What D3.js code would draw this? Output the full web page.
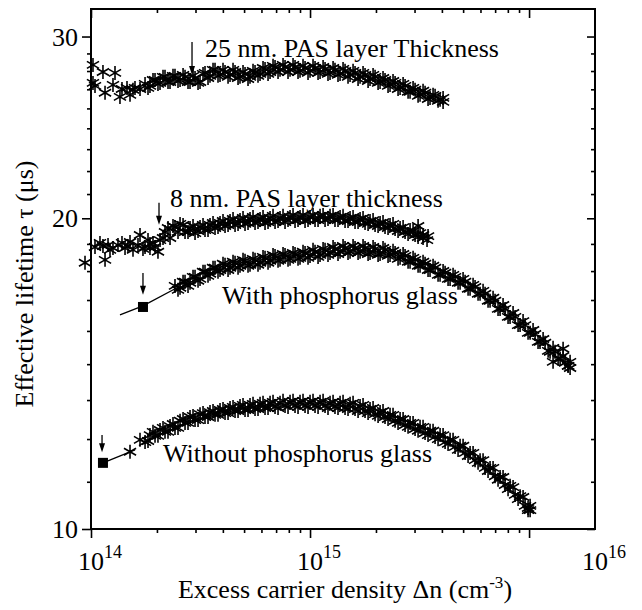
<!DOCTYPE html>
<html>
<head>
<meta charset="utf-8">
<script src="https://cdn.jsdelivr.net/npm/d3@7"></script>
<style>
  body { margin: 0; background: #fff; }
  svg { display: block; font-family: "Liberation Serif", "Times New Roman", serif; }
</style>
</head>
<body>
<svg id="chart" width="642" height="610"></svg>
<script>
// excess carrier density in units of 1e14 cm^-3, lifetime in microseconds
const pas25 = [
  [1.021,28.16],[1.021,27.05],[1.043,26.87],[1.134,27.72],[1.159,26.46],[1.260,26.93],[1.287,27.66],
  [1.356,26.22],[1.385,26.69],[1.460,26.75],[1.507,26.34],[1.555,26.64],[1.588,26.75],[1.674,26.69],
  [1.765,26.99],[1.859,26.87],[1.960,27.23],[2.066,27.05],[2.177,27.42],[2.295,27.11],[2.418,27.48],
  [2.550,27.23],[2.687,27.42],[2.832,27.11],[2.985,27.35],[3.146,27.11],[3.315,27.66],[3.494,27.48],
  [3.683,27.85],[3.882,27.54],[4.092,27.72],[4.313,27.54],[4.546,27.72],[4.790,27.42],[5.049,27.60],
  [5.321,27.42],[5.609,27.72],[5.912,27.60],[6.231,27.91],[6.568,27.72],[6.922,28.03],[7.295,27.85],
  [7.689,28.03],[8.104,27.85],[8.541,28.03],[9.001,27.79],[9.489,27.97],[10.0,27.79],[10.54,27.97],
  [11.11,27.72],[11.71,27.91],[12.34,27.66],[13.00,27.85],[13.71,27.60],[14.45,27.79],[15.23,27.54],
  [16.05,27.66],[16.92,27.42],[17.83,27.54],[18.79,27.29],[19.81,27.42],[20.88,27.11],[22.00,27.23],
  [23.19,26.93],[24.45,27.05],[25.77,26.75],[27.16,26.87],[28.62,26.52],[30.17,26.64],[31.79,26.34],
  [33.51,26.46],[35.31,26.16],[37.23,26.28],[39.24,26.05],[40.50,26.16],[40.50,25.93],
  [1.821,26.75],[1.919,27.23],[2.022,26.99],[2.132,27.42],[2.247,27.11],[2.368,27.48],[2.496,27.17],
  [2.632,27.54],[2.773,27.11],[2.923,27.48],[3.081,27.05],[3.247,27.60],[3.422,27.35],[3.607,27.85],
  [3.801,27.48],[4.006,27.85],[4.224,27.42],[4.451,27.85],[4.692,27.35],[4.944,27.72],[5.211,27.29],
  [5.492,27.79],[5.788,27.48],[6.101,27.97],[6.431,27.60],[6.778,28.10],[7.144,27.72],[7.529,28.16],
  [7.935,27.72],[8.364,28.16],[8.815,27.72],[9.290,28.10],[9.792,27.66],[10.32,28.10],[10.88,27.66],
  [11.47,28.03],[12.08,27.60],[12.74,27.97],[13.42,27.54],[14.15,27.91],[14.91,27.42],[15.72,27.79],
  [16.57,27.29],[17.46,27.66],[18.41,27.17],[19.40,27.54],[20.45,27.05],[21.54,27.35],[22.71,26.87],
  [23.93,27.17],[25.23,26.69],[26.60,26.99],[28.03,26.52],[29.54,26.75],[31.14,26.28],[32.81,26.58],
  [34.58,26.10],[36.45,26.34],[38.42,25.99]
];

const pas8 = [
  [0.939,18.11],[1.043,18.76],[1.099,18.93],[1.159,18.23],[1.196,18.84],[1.260,18.72],[1.328,18.84],
  [1.385,18.93],[1.430,18.72],[1.507,18.97],[1.555,18.64],[1.639,18.84],[1.674,19.27],[1.765,18.76],
  [1.821,19.05],[1.859,18.72],[1.919,18.93],[1.960,18.76],[2.022,18.56],[2.066,19.05],[2.177,19.40],
  [2.247,19.57],[2.295,19.14],[2.418,19.61],[2.550,19.75],[2.687,19.40],[2.832,19.57],[2.985,19.35],
  [3.146,19.61],[3.315,19.48],[3.494,19.70],[3.683,19.57],[3.882,19.79],[4.092,19.66],[4.313,19.88],
  [4.546,19.70],[4.790,19.92],[5.049,19.75],[5.321,19.97],[5.609,19.79],[5.912,19.97],[6.231,19.79],
  [6.568,20.01],[6.922,19.83],[7.295,20.01],[7.689,19.83],[8.104,20.06],[8.541,19.88],[9.001,20.06],
  [9.489,19.88],[10.0,20.06],[10.54,19.92],[11.11,20.11],[11.71,19.92],[12.34,20.11],[13.00,19.92],
  [13.71,20.06],[14.45,19.88],[15.23,20.01],[16.05,19.83],[16.92,19.97],[17.83,19.79],[18.79,19.88],
  [19.81,19.70],[20.88,19.79],[22.00,19.61],[23.19,19.70],[24.45,19.53],[25.77,19.57],[27.16,19.40],
  [28.62,19.48],[30.17,19.27],[31.14,19.66],[31.79,19.35],[32.81,19.14],[34.21,19.05],[34.58,19.22],
  [1.134,18.80],[1.221,18.64],[1.475,18.80],[1.727,18.68],[1.859,18.89],
  [2.132,19.14],[2.368,19.66],[2.496,19.40],[2.632,19.70],[2.773,19.40],[2.923,19.66],[3.081,19.44],
  [3.247,19.70],[3.422,19.48],[3.607,19.79],[3.801,19.61],[4.006,19.88],[4.224,19.70],[4.451,19.97],
  [4.692,19.75],[4.944,20.01],[5.211,19.79],[5.492,20.06],[5.788,19.83],[6.101,20.06],[6.431,19.83],
  [6.778,20.11],[7.144,19.88],[7.529,20.11],[7.935,19.92],[8.364,20.15],[8.815,19.92],[9.290,20.15],
  [9.792,19.92],[10.32,20.15],[10.88,19.92],[11.47,20.15],[12.08,19.97],[12.74,20.15],[13.42,19.92],
  [14.15,20.11],[14.91,19.88],[15.72,20.06],[16.57,19.83],[17.46,20.01],[18.41,19.75],[19.40,19.92],
  [20.45,19.66],[21.54,19.83],[22.71,19.57],[23.93,19.75],[25.23,19.44],[26.60,19.61],[28.03,19.31],
  [29.54,19.44],[31.14,19.18],[32.81,19.27]
];

const withGlass = [
  [2.418,17.20],[2.550,17.13],[2.687,17.36],[2.832,17.32],[2.985,17.55],[3.146,17.47],[3.315,17.75],
  [3.494,17.67],[3.683,17.91],[3.882,17.82],[4.092,18.03],[4.313,17.91],[4.546,18.11],[4.790,17.99],
  [5.049,18.19],[5.321,18.03],[5.609,18.23],[5.912,18.11],[6.231,18.31],[6.568,18.19],[6.922,18.39],
  [7.295,18.23],[7.689,18.43],[8.104,18.27],[8.541,18.47],[9.001,18.31],[9.489,18.51],[10.0,18.39],
  [10.54,18.56],[11.11,18.43],[11.71,18.64],[12.34,18.51],[13.00,18.68],[13.71,18.56],[14.45,18.72],
  [15.23,18.56],[16.05,18.72],[16.92,18.56],[17.83,18.72],[18.79,18.51],[19.81,18.68],[20.88,18.47],
  [22.00,18.64],[23.19,18.43],[24.45,18.51],[25.77,18.31],[27.16,18.39],[28.62,18.15],[30.17,18.23],
  [31.79,17.99],[33.51,18.07],[35.31,17.82],[37.23,17.91],[39.24,17.63],[41.36,17.71],[43.59,17.47],
  [45.94,17.55],[48.42,17.32],[51.04,17.36],[53.78,17.09],[56.68,17.16],[59.74,16.90],[62.97,16.90],
  [66.36,16.64],[69.94,16.64],[73.72,16.34],[77.69,16.34],[81.89,16.05],[86.33,16.05],[90.99,15.76],
  [95.88,15.76],[101.1,15.49],[106.5,15.45],[112.2,15.18],[118.3,15.15],[124.7,14.85],[128.7,14.52],
  [131.4,14.85],[138.6,14.62],[143.0,14.95],[146.0,14.49],[150.7,14.39],[153.9,14.52],[153.9,14.32],
  [2.496,17.05],[2.632,17.36],[2.773,17.20],[2.923,17.55],[3.081,17.40],[3.247,17.75],[3.422,17.59],
  [3.607,17.91],[3.801,17.75],[4.006,18.07],[4.224,17.82],[4.451,18.15],[4.692,17.91],[4.944,18.23],
  [5.211,17.99],[5.492,18.27],[5.788,18.03],[6.101,18.35],[6.431,18.11],[6.778,18.43],[7.144,18.19],
  [7.529,18.47],[7.935,18.23],[8.364,18.51],[8.815,18.27],[9.290,18.56],[9.792,18.31],[10.32,18.64],
  [10.88,18.35],[11.47,18.68],[12.08,18.43],[12.74,18.76],[13.42,18.47],[14.15,18.80],[14.91,18.51],
  [15.72,18.80],[16.57,18.51],[17.46,18.80],[18.41,18.47],[19.40,18.76],[20.45,18.43],[21.54,18.72],
  [22.71,18.39],[23.93,18.60],[25.23,18.27],[26.60,18.47],[28.03,18.15],[29.54,18.31],[31.14,17.99],
  [32.81,18.15],[34.58,17.82],[36.45,17.99],[38.42,17.63],[40.50,17.78],[42.68,17.47],[44.98,17.63],
  [47.41,17.32],[49.97,17.47],[52.67,17.09],[55.51,17.24],[58.50,16.90],[61.66,17.01],[64.98,16.64],
  [68.49,16.75],[72.18,16.34],[76.08,16.48],[80.19,16.05],[84.52,16.19],[89.10,15.76],[93.89,15.90],
  [98.95,15.49],[104.3,15.59],[109.9,15.18],[115.9,15.28],[122.2,14.88],[128.7,14.98],[135.7,14.62],
  [143.0,14.71],[150.7,14.39]
];

const withoutGlass = [
  [1.507,11.88],[1.674,12.20],[1.765,12.14],[1.859,12.33],[1.960,12.31],[2.066,12.47],[2.177,12.42],
  [2.295,12.58],[2.418,12.53],[2.550,12.73],[2.687,12.67],[2.832,12.84],[2.985,12.75],[3.146,12.92],
  [3.315,12.84],[3.494,12.98],[3.683,12.90],[3.882,13.04],[4.092,12.95],[4.313,13.10],[4.546,13.01],
  [4.790,13.16],[5.049,13.04],[5.321,13.19],[5.609,13.07],[5.912,13.22],[6.231,13.10],[6.568,13.25],
  [6.922,13.13],[7.295,13.25],[7.689,13.16],[8.104,13.28],[8.541,13.16],[9.001,13.28],[9.489,13.16],
  [10.0,13.28],[10.54,13.16],[11.11,13.28],[11.71,13.16],[12.34,13.25],[13.00,13.13],[13.71,13.25],
  [14.45,13.10],[15.23,13.22],[16.05,13.07],[16.92,13.16],[17.83,13.01],[18.79,13.07],[19.81,12.92],
  [20.88,12.98],[22.00,12.84],[23.19,12.90],[24.45,12.73],[25.77,12.78],[27.16,12.61],[28.62,12.67],
  [30.17,12.50],[31.79,12.56],[33.51,12.39],[35.31,12.45],[37.23,12.28],[39.24,12.33],[41.36,12.14],
  [43.59,12.20],[45.94,12.01],[48.42,12.04],[51.04,11.85],[53.78,11.85],[56.68,11.66],[59.74,11.66],
  [62.97,11.46],[66.36,11.46],[69.94,11.25],[73.72,11.23],[77.69,11.03],[81.89,11.01],[86.33,10.79],
  [90.99,10.76],[95.88,10.53],[98.95,10.48],[101.1,10.43],[101.1,10.53],
  [1.821,12.17],[1.919,12.42],[2.022,12.31],[2.132,12.53],[2.247,12.42],[2.368,12.64],[2.496,12.53],
  [2.632,12.78],[2.773,12.67],[2.923,12.87],[3.081,12.75],[3.247,12.95],[3.422,12.84],[3.607,13.01],
  [3.801,12.90],[4.006,13.07],[4.224,12.95],[4.451,13.13],[4.692,13.01],[4.944,13.19],[5.211,13.04],
  [5.492,13.22],[5.788,13.07],[6.101,13.25],[6.431,13.10],[6.778,13.28],[7.144,13.10],[7.529,13.31],
  [7.935,13.13],[8.364,13.31],[8.815,13.13],[9.290,13.31],[9.792,13.13],[10.32,13.31],[10.88,13.13],
  [11.47,13.31],[12.08,13.10],[12.74,13.28],[13.42,13.10],[14.15,13.28],[14.91,13.07],[15.72,13.25],
  [16.57,13.01],[17.46,13.19],[18.41,12.95],[19.40,13.10],[20.45,12.87],[21.54,13.01],[22.71,12.78],
  [23.93,12.90],[25.23,12.67],[26.60,12.78],[28.03,12.56],[29.54,12.67],[31.14,12.45],[32.81,12.56],
  [34.58,12.33],[36.45,12.45],[38.42,12.22],[40.50,12.33],[42.68,12.09],[44.98,12.20],[47.41,11.93],
  [49.97,12.04],[52.67,11.77],[55.51,11.85],[58.50,11.59],[61.66,11.66],[64.98,11.38],[68.49,11.46],
  [72.18,11.16],[76.08,11.23],[80.19,10.93],[84.52,10.98],[89.10,10.69],[93.89,10.74],[98.95,10.43]
];

// first measured point (square) with arrow, and the fitted lead-in line
const withSquare = [1.727, 16.41];
const withoutSquare = [1.134, 11.59];
const withLine = [[1.356,16.12],[1.727,16.45],[2.470,17.13]];
const withoutLine = [[1.134,11.59],[1.588,11.93]];

const arrows = [
  { x: 2.892, from: 29.64, to: 27.54 },
  { x: 2.044, from: 20.70, to: 19.71 },
  { x: 1.727, from: 17.70, to: 16.86 },
  { x: 1.123, from: 12.33, to: 11.87 }
];

const labels = [
  { text: "25 nm. PAS layer Thickness", x: 3.315, y: 28.67 },
  { text: "8 nm. PAS layer thickness", x: 2.295, y: 20.51 },
  { text: "With phosphorus glass", x: 3.965, y: 16.52 },
  { text: "Without phosphorus glass", x: 2.132, y: 11.61 }
];

const xMajor = [1e14, 1e15, 1e16];
const xMinor = [2,3,4,5,6,7,8,9].flatMap(k => [k * 1e14, k * 1e15]);
const xTickExp = ["14", "15", "16"];
const yMajor = [10, 20, 30];
const yMinor = d3.range(1, 9).flatMap(k => [10 + k * 10 / 9, 20 + k * 10 / 9]);

const svg = d3.select("#chart");
const mLeft = 91, mRight = 595, mTop = 9, mBottom = 529;

const x = d3.scaleLog().domain([1e14, 2e16]).range([mLeft, mRight]);
const y = d3.scaleLog().domain([10, 31.9]).range([mBottom, mTop]);

const px = d => x(d[0] * 1e14);
const py = d => y(d[1]);

// axes: bottom/left ticks outward, top/right ticks inward
function tickAxis(axis, vals, size, transform) {
  svg.append("g")
    .attr("transform", transform)
    .call(axis.tickValues(vals).tickSize(size).tickSizeOuter(0).tickFormat(""))
    .call(g => g.select(".domain").remove())
    .call(g => g.selectAll("line").attr("stroke", "#000").attr("stroke-width", 1.6));
}
tickAxis(d3.axisBottom(x), xMinor, 4, `translate(0,${mBottom})`);
tickAxis(d3.axisBottom(x), xMajor, 9, `translate(0,${mBottom})`);
tickAxis(d3.axisBottom(x), xMinor, 4, `translate(0,${mTop})`);
tickAxis(d3.axisBottom(x), xMajor, 9, `translate(0,${mTop})`);
tickAxis(d3.axisLeft(y), yMinor, 4, `translate(${mLeft},0)`);
tickAxis(d3.axisLeft(y), yMajor, 9, `translate(${mLeft},0)`);
tickAxis(d3.axisLeft(y), yMinor, 4, `translate(${mRight},0)`);
tickAxis(d3.axisLeft(y), yMajor, 8, `translate(${mRight},0)`);

svg.append("rect")
  .attr("x", mLeft).attr("y", mTop)
  .attr("width", mRight - mLeft).attr("height", mBottom - mTop)
  .attr("fill", "none").attr("stroke", "#000").attr("stroke-width", 2);

// y tick labels
svg.selectAll(".ylab")
  .data(yMajor)
  .join("text")
  .attr("class", "ylab")
  .attr("x", 78)
  .attr("y", d => y(d))
  .attr("dy", "0.35em")
  .attr("text-anchor", "end")
  .attr("font-size", 26)
  .text(d => d);

// x tick labels; the last one sits at the end of the axis as in the original
const xLabPos = [x(1e14), x(1e15), x.range()[1]];
const xl = svg.selectAll(".xlab")
  .data(xTickExp)
  .join("text")
  .attr("class", "xlab")
  .attr("x", (d, i) => xLabPos[i] - 13)
  .attr("y", 570)
  .attr("font-size", 26);
xl.append("tspan").text("10");
xl.append("tspan").attr("font-size", 18).attr("dy", -12).text(d => d);

// axis titles
const xt = svg.append("text")
  .attr("x", 345).attr("y", 598)
  .attr("text-anchor", "middle")
  .attr("font-size", 26);
xt.append("tspan").text("Excess carrier density \u0394n (cm");
xt.append("tspan").attr("font-size", 17).attr("dy", -10).text("-3");
xt.append("tspan").attr("dy", 10).text(")");

svg.append("text")
  .attr("transform", "translate(33,284) rotate(-90)")
  .attr("text-anchor", "middle")
  .attr("font-size", 26)
  .text("Effective lifetime \u03c4 (\u03bcs)");

// asterisk marker
const r = 7, c = r * Math.cos(Math.PI / 6), s = r * 0.5;
const star = `M0,${-r}V${r}M${-c},${-s}L${c},${s}M${-c},${s}L${c},${-s}`;

const line = d3.line().x(px).y(py);
[withLine, withoutLine].forEach(l => {
  svg.append("path").attr("d", line(l))
    .attr("fill", "none").attr("stroke", "#000").attr("stroke-width", 1.3);
});

[pas25, pas8, withGlass, withoutGlass].forEach(series => {
  svg.append("g").selectAll("path")
    .data(series)
    .join("path")
    .attr("transform", d => `translate(${px(d)},${py(d)})`)
    .attr("d", star)
    .attr("fill", "none")
    .attr("stroke", "#000")
    .attr("stroke-width", 1.6);
});

svg.selectAll(".sq")
  .data([withSquare, withoutSquare])
  .join("rect")
  .attr("class", "sq")
  .attr("x", d => px(d) - 5)
  .attr("y", d => py(d) - 5)
  .attr("width", 10).attr("height", 10)
  .attr("fill", "#000");

// arrows
const ag = svg.selectAll(".arrow")
  .data(arrows)
  .join("g")
  .attr("class", "arrow");
ag.append("line")
  .attr("x1", d => x(d.x * 1e14)).attr("x2", d => x(d.x * 1e14))
  .attr("y1", d => y(d.from)).attr("y2", d => y(d.to) - 6)
  .attr("stroke", "#000").attr("stroke-width", 1.3);
ag.append("path")
  .attr("d", d => {
    const ax = x(d.x * 1e14), ay = y(d.to);
    return `M${ax - 3},${ay - 9}L${ax + 3},${ay - 9}L${ax},${ay}Z`;
  })
  .attr("fill", "#000");

// annotations
svg.selectAll(".note")
  .data(labels)
  .join("text")
  .attr("class", "note")
  .attr("x", d => x(d.x * 1e14))
  .attr("y", d => y(d.y))
  .attr("font-size", 26)
  .text(d => d.text);
</script>
</body>
</html>
